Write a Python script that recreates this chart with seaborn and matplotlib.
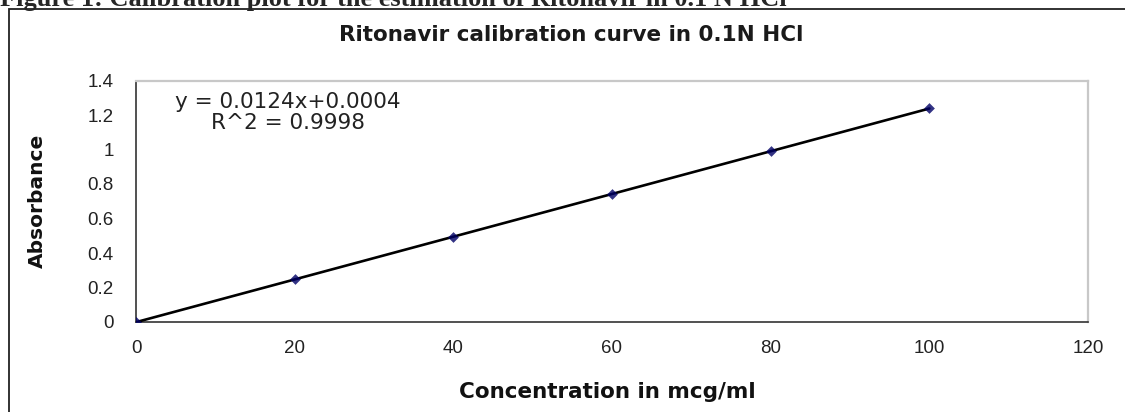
import matplotlib
matplotlib.use("Agg")
import matplotlib.pyplot as plt
import seaborn as sns
import pandas as pd
from matplotlib.patches import Rectangle

# Data
concentration = [0, 20, 40, 60, 80, 100]
absorbance = [0.0, 0.25, 0.49, 0.74, 0.99, 1.24]
x_ticks = [0, 20, 40, 60, 80, 100, 120]
y_ticks = [0, 0.2, 0.4, 0.6, 0.8, 1.0, 1.2, 1.4]
y_tick_labels = ["0", "0.2", "0.4", "0.6", "0.8", "1", "1.2", "1.4"]
caption = "Figure 1: Calibration plot for the estimation of Ritonavir in 0.1 N HCl"
title = "Ritonavir calibration curve in 0.1N HCl"
equation_text = "y = 0.0124x+0.0004\nR^2 = 0.9998"

sns.set_style("white")
plt.rcParams["font.family"] = ["Liberation Sans", "DejaVu Sans"]

df = pd.DataFrame({"Concentration": concentration, "Absorbance": absorbance})

W, H = 1125, 412
fig = plt.figure(figsize=(W / 100, H / 100), dpi=100)
ax = fig.add_axes([136 / W, 1 - 322 / H, (1088 - 136) / W, (322 - 80.5) / H])

sns.regplot(data=df, x="Concentration", y="Absorbance", ax=ax, ci=None,
            marker="D", color="black",
            scatter_kws={"s": 30, "color": "#000066", "zorder": 4, "linewidths": 0},
            line_kws={"color": "black", "lw": 1.9, "zorder": 3})

ax.set_xlim(0, 120)
ax.set_ylim(0, 1.4)
ax.set_xticks(x_ticks)
ax.set_xticklabels([str(t) for t in x_ticks], fontsize=13.5, color="#222222")
ax.set_yticks(y_ticks)
ax.set_yticklabels(y_tick_labels, fontsize=13.5, color="#222222")
ax.tick_params(axis="both", direction="in", length=5, width=1, color="#333333")
ax.tick_params(axis="y", pad=16)
ax.tick_params(axis="x", pad=13)

for s in ["left", "bottom"]:
    ax.spines[s].set_color("#333333")
    ax.spines[s].set_linewidth(1.2)
for s in ["top", "right"]:
    ax.spines[s].set_color("#c8c8c8")
    ax.spines[s].set_linewidth(1.6)

label_font = ["DejaVu Sans"]
ax.set_xlabel("Concentration in mcg/ml", fontsize=15.5, fontweight="bold",
              family=label_font, color="#111111")
ax.set_ylabel("Absorbance", fontsize=14.5, fontweight="bold",
              family=label_font, color="#111111")
ax.xaxis.set_label_coords(0.495, -0.25)
ax.yaxis.set_label_coords(-0.094, 0.5)

ax.text(19.1, 1.215, equation_text, ha="center", va="center", fontsize=15.5,
        family=["DejaVu Sans"], color="#222222",
        multialignment="center", linespacing=1.1)

fig.text(571 / W, 1 - 35 / H, title, ha="center", va="center",
         fontsize=15.5, fontweight="bold", family=label_font, color="#1a1a1a")

fig.text(0.0, 1 - 6 / H, caption, ha="left", va="baseline",
         fontsize=19, fontweight="bold", family=["Liberation Serif", "DejaVu Serif"])

fig.add_artist(Rectangle((9 / W, -0.05), 1.2, 1 - 8.5 / H + 0.05,
                         transform=fig.transFigure, fill=False,
                         edgecolor="#222222", lw=1.3))

fig.savefig("out.png", dpi=100)
